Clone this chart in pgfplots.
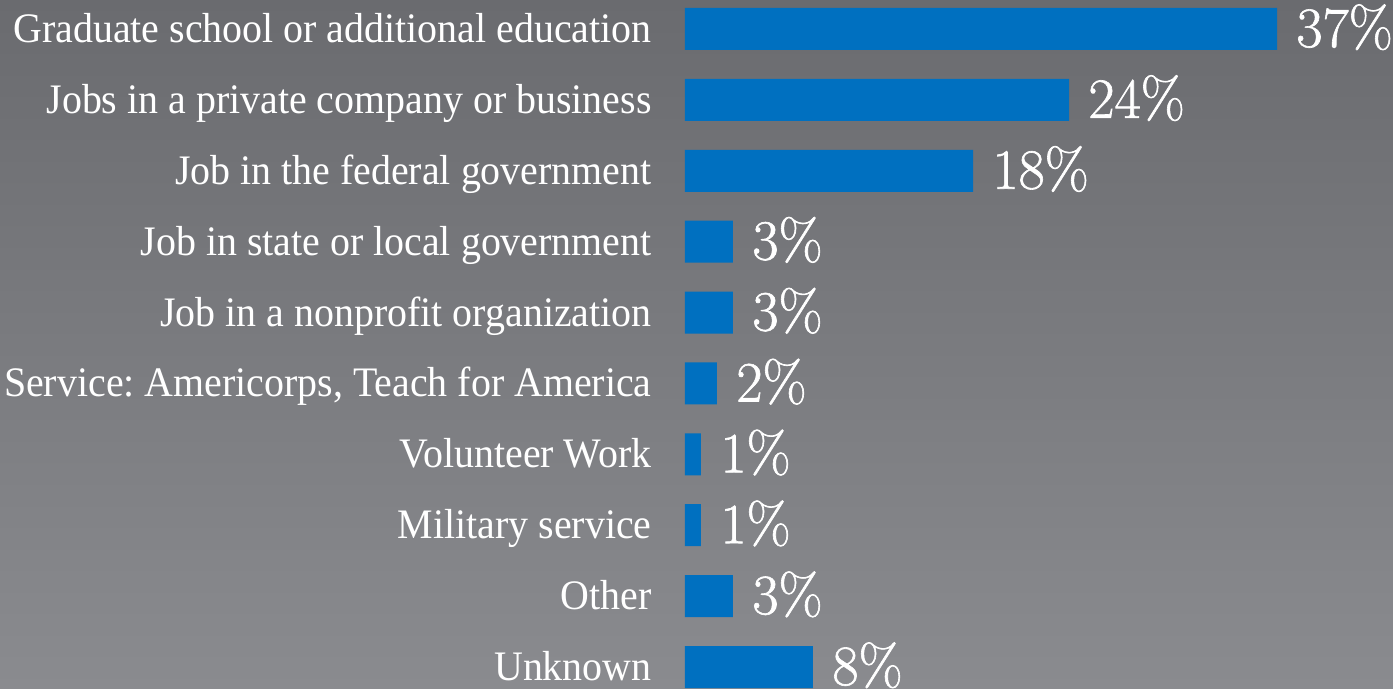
\documentclass[border=0pt]{standalone}
\usepackage{pgfplots}
\pgfplotsset{compat=1.18}
\usepackage{pgfplotstable}
\usepackage{fontspec}
\newfontfamily\labelfont[FakeStretch=0.95]{Liberation Serif}
\newfontfamily\pctfont[FakeBold=1.1]{Latin Modern Roman}
\definecolor{barblue}{RGB}{0,112,192}
\definecolor{bgtop}{RGB}{106,107,111}
\definecolor{bgbot}{RGB}{138,139,143}
\frenchspacing

\pgfplotstableread{
idx value
0 37
1 24
2 18
3 3
4 3
5 2
6 1
7 1
8 3
9 8
}\datatable

\begin{document}
\begin{tikzpicture}
\useasboundingbox (0,0) rectangle (696.5pt,344.5pt);
\shade[top color=bgtop,bottom color=bgbot] (0,0) rectangle (696.5pt,344.5pt);
\begin{axis}[
  at={(342.5pt,0pt)}, anchor=south west,
  scale only axis, width=354pt, height=344.5pt,
  xbar, bar width=21pt,
  xmin=0, xmax=44.25,
  ymin=-0.409, ymax=9.31, y dir=reverse,
  axis line style={draw=none},
  xtick=\empty,
  ytick={0,...,9},
  yticklabels={Graduate school or additional education,
    Jobs in a private company or business,
    Job in the federal government,
    Job in state or local government,
    Job in a nonprofit organization,
    {Service: Americorps, Teach for America},
    Volunteer Work,
    Military service,
    Other,
    Unknown},
  major tick length=0pt,
  yticklabel style={font=\labelfont\frenchspacing\fontsize{21}{21}\selectfont, text=white,
    anchor=base east, inner sep=0pt, yshift=-6.75pt, xshift=-16.5pt},
  /pgf/number format/assume math mode=true,
  point meta=x,
  nodes near coords={\pgfmathprintnumber{\pgfplotspointmeta}\%},
  nodes near coords style={font=\pctfont\fontsize{28.5}{28.5}\selectfont, text=white,
    anchor=base west, inner sep=0pt, yshift=-9pt, xshift=9.5pt},
  clip=false,
]
\addplot[draw=none, fill=barblue] table[x=value, y=idx] {\datatable};
\end{axis}
\end{tikzpicture}
\end{document}
